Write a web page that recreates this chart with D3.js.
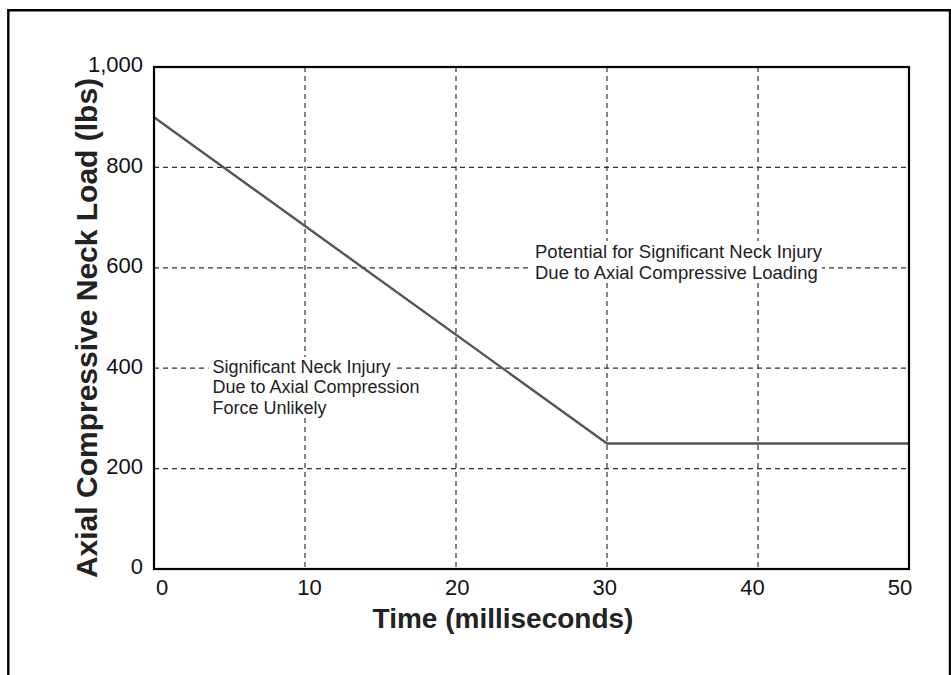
<!DOCTYPE html>
<html>
<head>
<meta charset="utf-8">
<script src="https://cdn.jsdelivr.net/npm/d3@7"></script>
<style>
  body { margin: 0; background: #fff; }
  svg { display: block; font-family: "Liberation Sans", Arial, Helvetica, sans-serif; }
</style>
</head>
<body>
<div id="chart"></div>
<script>
// data
var timeMs  = [0, 30, 50];
var loadLbs = [900, 250, 250];
var xTicks = [0, 10, 20, 30, 40, 50];
var yTicks = [0, 200, 400, 600, 800, 1000];
var noteHigh = ["Potential for Significant Neck Injury", "Due to Axial Compressive Loading"];
var noteLow  = ["Significant Neck Injury", "Due to Axial Compression", "Force Unlikely"];

var W = 951, H = 675;
var margin = {top: 67, right: 42, bottom: 106, left: 154},
  width = W - margin.left - margin.right,
  height = H - margin.top - margin.bottom;

var svg = d3.select("#chart")
.append("svg")
  .attr("width", W)
  .attr("height", H);

// outer frame (bottom runs off the page)
svg.append("path")
  .attr("d", "M8.3," + (H + 5) + "V10.3H950" + "V" + (H + 5))
  .attr("fill", "none")
  .attr("stroke", "#000")
  .attr("stroke-width", 2.4);

var g = svg.append("g")
  .attr("transform", "translate(" + margin.left + "," + margin.top + ")");

// scales
var x = d3.scaleLinear().domain([0, 50]).range([0, width]);
var y = d3.scaleLinear().domain([0, 1000]).range([height, 0]);
// tick labels sit slightly inside the tick positions in the original
var xLab = d3.scaleLinear().domain([0, 50]).range([7.5, width - 9.5]);

// dashed grid
g.selectAll(".vgrid")
  .data(xTicks.slice(1, -1))
  .enter().append("line")
    .attr("x1", function(d) { return x(d); })
    .attr("x2", function(d) { return x(d); })
    .attr("y1", 0)
    .attr("y2", height)
    .attr("stroke", "#333")
    .attr("stroke-width", 1.2)
    .attr("stroke-dasharray", "5,4");
g.selectAll(".hgrid")
  .data(yTicks.slice(1, -1))
  .enter().append("line")
    .attr("x1", 0)
    .attr("x2", width)
    .attr("y1", function(d) { return y(d); })
    .attr("y2", function(d) { return y(d); })
    .attr("stroke", "#333")
    .attr("stroke-width", 1.2)
    .attr("stroke-dasharray", "5,4");

// data line
g.append("path")
  .datum(timeMs.map(function(t, i) { return [t, loadLbs[i]]; }))
  .attr("fill", "none")
  .attr("stroke", "#555")
  .attr("stroke-width", 2.4)
  .attr("d", d3.line()
    .x(function(d) { return x(d[0]); })
    .y(function(d) { return y(d[1]); }));

// plot border
g.append("rect")
  .attr("width", width)
  .attr("height", height)
  .attr("fill", "none")
  .attr("stroke", "#000")
  .attr("stroke-width", 2.2);

// axes
var xAxis = g.append("g")
  .attr("transform", "translate(0," + height + ")")
  .call(d3.axisBottom(xLab).tickValues(xTicks).tickSize(0).tickPadding(10));
var yAxis = g.append("g")
  .call(d3.axisLeft(y).tickValues(yTicks).tickSize(0).tickPadding(11).tickFormat(d3.format(",")));
[xAxis, yAxis].forEach(function(a) {
  a.select(".domain").remove();
  a.selectAll("text")
    .attr("font-family", "Liberation Sans, Arial, sans-serif")
    .attr("font-size", "22px")
    .attr("fill", "#111");
});
yAxis.selectAll("text").attr("dy", "0.22em");

// axis titles
svg.append("text")
  .attr("x", 503)
  .attr("y", 628)
  .attr("text-anchor", "middle")
  .attr("font-size", "28px")
  .attr("font-weight", "bold")
  .attr("fill", "#222")
  .text("Time (milliseconds)");
svg.append("text")
  .attr("transform", "translate(97," + 328 + ") rotate(-90)")
  .attr("text-anchor", "middle")
  .attr("font-size", "30px")
  .attr("font-weight", "bold")
  .attr("fill", "#222")
  .text("Axial Compressive Neck Load (lbs)");

// annotations, with a white backing that breaks the grid like the original
function note(lines, x0, y0, step, size) {
  var grp = svg.append("g");
  var bg = grp.append("g");
  var txt = grp.append("text")
    .attr("font-size", size)
    .attr("fill", "#222");
  txt.selectAll("tspan")
    .data(lines)
    .enter().append("tspan")
      .attr("x", x0)
      .attr("y", function(d, i) { return y0 + i * step; })
      .text(function(d) { return d; });
  txt.selectAll("tspan").each(function() {
    var b = this.getBBox();
    bg.append("rect")
      .attr("x", b.x - 4)
      .attr("y", b.y)
      .attr("width", b.width + 8)
      .attr("height", b.height)
      .attr("fill", "#fff");
  });
}
note(noteHigh, 535, 258, 20.5, "18.5px");
note(noteLow, 212.5, 373, 20.3, "18px");
</script>
</body>
</html>
